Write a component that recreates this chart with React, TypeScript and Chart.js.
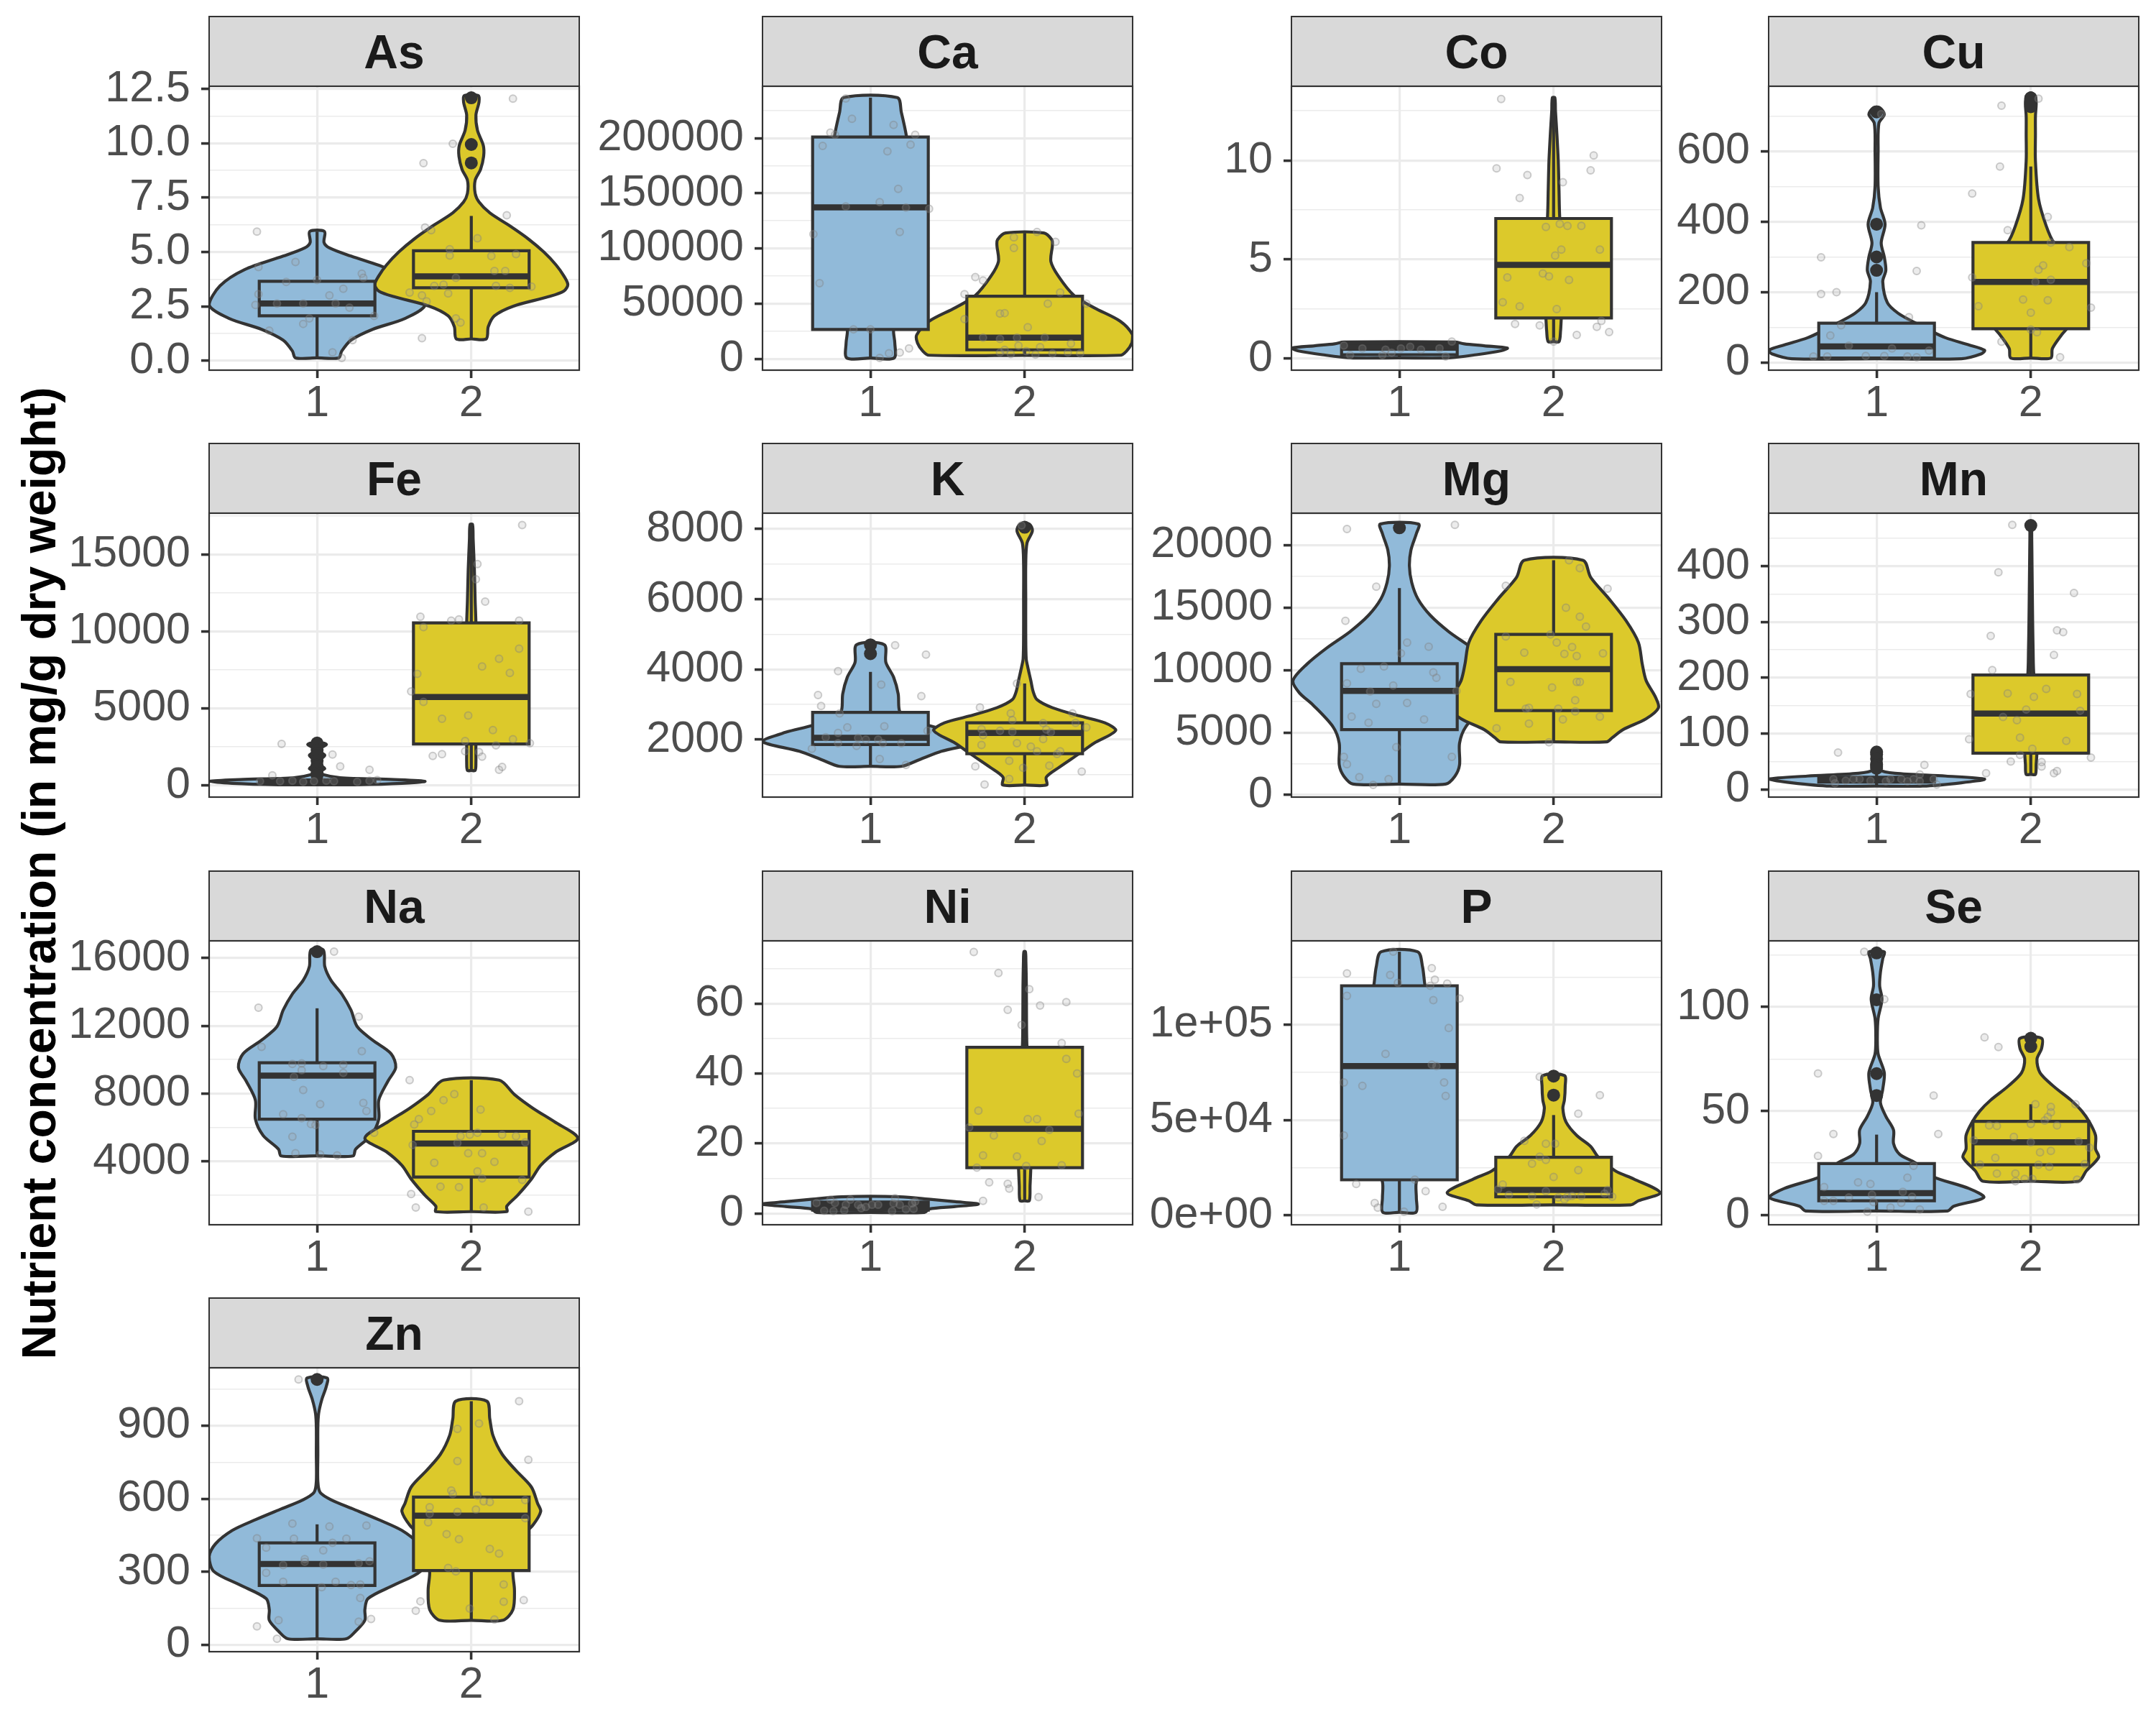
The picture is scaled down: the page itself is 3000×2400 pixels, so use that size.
import React, { useEffect, useRef } from "react";
import { Chart, registerables } from "chart.js";
Chart.register(...registerables);

// ---------------- data ----------------
const ELEMENTS = ["As", "Ca", "Co", "Cu", "Fe", "K", "Mg", "Mn", "Na", "Ni", "P", "Se", "Zn"];
const GROUP_POS = [1, 2];
const GROUP_LABELS = ["1", "2"];
const Y_TITLE = "Nutrient concentration (in mg/g dry weight)";

// box arrays: [lower whisker, q1, median, q3, upper whisker]
// violin arrays: [value, half-width (x units)]
// jitter arrays: [x, value]

const AS_RANGE = [-0.44, 12.63];
const AS_TICKS = [0, 2.5, 5, 7.5, 10, 12.5];
const AS_LABELS = ["0.0", "2.5", "5.0", "7.5", "10.0", "12.5"];
const AS_BOX_1 = [0.125, 2.06, 2.63, 3.65, 5.94];
const AS_BOX_2 = [1.0, 3.35, 3.88, 5.06, 6.66];
const AS_OUT_1: number[] = [];
const AS_OUT_2 = [12.1, 9.95, 9.1];
const AS_V1 = [[0.125, 0.14], [0.44, 0.16], [0.94, 0.22], [1.44, 0.36], [1.94, 0.57], [2.56, 0.7], [3.44, 0.63], [4.19, 0.47], [4.81, 0.22], [5.19, 0.08], [5.44, 0.045], [5.94, 0.048]];
const AS_V2 = [[1.0, 0.097], [1.56, 0.11], [2.06, 0.15], [2.5, 0.27], [2.94, 0.5], [3.2, 0.6], [3.5, 0.626], [3.9, 0.6], [4.4, 0.55], [5.0, 0.47], [5.6, 0.37], [6.2, 0.25], [6.8, 0.12], [7.3, 0.05], [7.7, 0.025], [8.3, 0.025], [8.8, 0.06], [9.4, 0.08], [9.9, 0.078], [10.6, 0.04], [11.3, 0.03], [11.9, 0.05], [12.2, 0.045]];
const AS_J1 = [[0.61, 5.94], [0.62, 4.31], [0.86, 4.54], [0.8, 3.62], [1.0, 3.71], [0.74, 2.63], [0.91, 2.63], [1.12, 2.63], [0.62, 3.06], [0.6, 2.56], [1.08, 3.0], [1.17, 3.31], [1.21, 2.44], [1.29, 4.0], [1.3, 3.81], [1.37, 2.06], [0.95, 1.94], [0.91, 1.69], [0.69, 1.38], [1.23, 0.94], [1.1, 0.38], [1.16, 0.125]];
const AS_J2 = [[2.27, 12.06], [1.88, 9.98], [1.69, 9.09], [2.23, 6.69], [1.7, 6.13], [1.74, 6.0], [2.04, 5.63], [1.86, 5.13], [1.86, 4.84], [2.13, 4.81], [2.29, 4.9], [2.15, 4.13], [2.22, 4.13], [1.9, 3.81], [1.82, 3.5], [1.76, 3.44], [2.16, 3.44], [2.25, 3.35], [2.39, 3.41], [1.85, 3.09], [1.6, 3.13], [1.68, 3.0], [1.71, 2.73], [1.9, 1.94], [1.93, 1.75], [1.68, 1.03]];

const CA_RANGE = [-10300, 247000];
const CA_TICKS = [0, 50000, 100000, 150000, 200000];
const CA_LABELS = ["0", "50000", "100000", "150000", "200000"];
const CA_BOX_1 = [700, 26600, 137200, 201000, 236700];
const CA_BOX_2 = [3200, 8100, 19200, 56700, 114000];
const CA_OUT_1: number[] = [];
const CA_OUT_2: number[] = [];
const CA_V1 = [[700, 0.153], [14300, 0.158], [26600, 0.15], [60000, 0.2], [100000, 0.25], [140000, 0.26], [180000, 0.25], [202000, 0.233], [223600, 0.2], [236700, 0.174]];
const CA_V2 = [[3200, 0.62], [6900, 0.66], [14300, 0.695], [21700, 0.7], [34000, 0.62], [46300, 0.45], [57400, 0.32], [74600, 0.22], [88200, 0.17], [103000, 0.18], [107900, 0.176], [114000, 0.124]];
const CA_J1 = [[0.84, 236000], [0.88, 217500], [0.74, 205000], [0.77, 203000], [0.69, 193000], [1.15, 212000], [1.11, 188000], [1.26, 194000], [1.29, 203000], [1.18, 154000], [1.06, 142000], [0.84, 138000], [1.23, 137000], [1.38, 136000], [1.19, 115000], [0.63, 113000], [0.67, 68500], [0.89, 26600], [1.0, 26600], [1.06, 700], [1.12, 5000], [1.19, 5700], [1.25, 9400]];
const CA_J2 = [[1.93, 110000], [2.08, 115000], [2.2, 106000], [1.93, 100500], [1.68, 74000], [1.73, 71000], [1.61, 58600], [2.23, 60000], [2.15, 50000], [2.4, 50000], [1.84, 41000], [1.87, 41400], [1.61, 36000], [2.02, 28600], [1.73, 19200], [1.84, 18000], [1.95, 19200], [2.13, 19200], [2.3, 13800], [1.96, 11800], [2.1, 10600], [1.87, 8100], [1.84, 5700], [1.91, 4400], [2.07, 3900], [2.18, 4900], [2.28, 5700], [2.36, 4900], [2.01, 6900]];

const CO_RANGE = [-0.58, 13.74];
const CO_TICKS = [0, 5, 10];
const CO_LABELS = ["0", "5", "10"];
const CO_BOX_1 = [0.04, 0.2, 0.55, 0.72, 0.84];
const CO_BOX_2 = [0.86, 2.05, 4.73, 7.07, 13.16];
const CO_OUT_1: number[] = [];
const CO_OUT_2: number[] = [];
const CO_V1 = [[0.04, 0.32], [0.2, 0.5], [0.4, 0.66], [0.53, 0.7], [0.65, 0.55], [0.75, 0.42], [0.84, 0.36]];
const CO_V2 = [[0.86, 0.035], [1.4, 0.045], [2.05, 0.05], [3, 0.06], [4.5, 0.06], [6, 0.055], [7.07, 0.04], [8.5, 0.035], [10, 0.03], [11.5, 0.02], [12.5, 0.012], [13.16, 0.008]];
const CO_J1 = [[0.64, 0.66], [0.76, 0.52], [0.91, 0.45], [0.95, 0.3], [1.01, 0.52], [1.07, 0.6], [1.14, 0.45], [1.26, 0.52], [1.34, 0.86], [1.3, 0.11], [0.89, 0.18], [0.68, 0.18]];
const CO_J2 = [[1.66, 13.1], [1.63, 9.6], [1.83, 9.26], [1.78, 8.1], [2.06, 8.9], [2.24, 9.5], [2.26, 10.25], [1.95, 6.64], [2.04, 6.8], [2.09, 6.7], [2.18, 6.7], [2.05, 5.5], [2.3, 5.5], [2.01, 5.2], [1.7, 4.1], [1.93, 4.3], [1.97, 4.15], [2.1, 3.97], [1.67, 2.85], [1.78, 2.64], [2.02, 2.5], [1.75, 1.75], [1.91, 1.68], [2.31, 1.9], [2.28, 1.6], [2.36, 1.34], [2.15, 1.2], [2.0, 0.86]];

const CU_RANGE = [-21.6, 785];
const CU_TICKS = [0, 200, 400, 600];
const CU_LABELS = ["0", "200", "400", "600"];
const CU_BOX_1 = [11, 13, 46, 112, 200];
const CU_BOX_2 = [13, 96, 229, 341, 557];
const CU_OUT_1 = [712, 393, 300, 262];
const CU_OUT_2 = [752, 740, 727];
const CU_V1 = [[11, 0.55], [25, 0.68], [35, 0.7], [50, 0.6], [70, 0.45], [90, 0.35], [113, 0.25], [140, 0.14], [170, 0.07], [230, 0.04], [262, 0.06], [300, 0.05], [340, 0.03], [393, 0.055], [440, 0.025], [500, 0.01], [600, 0.01], [680, 0.015], [705, 0.05], [724, 0.02]];
const CU_V2 = [[13, 0.13], [40, 0.14], [79, 0.2], [100, 0.24], [150, 0.3], [200, 0.33], [250, 0.32], [300, 0.26], [341, 0.15], [388, 0.1], [465, 0.05], [573, 0.03], [650, 0.03], [700, 0.03], [735, 0.035], [755, 0.03], [765, 0.012]];
const CU_J1 = [[0.64, 299], [0.64, 195], [0.74, 200], [1.26, 260], [1.29, 390], [1.21, 129], [0.77, 106], [0.7, 77], [0.82, 48], [0.93, 18.5], [1.05, 18.5], [1.1, 40], [1.2, 17], [1.26, 15], [0.59, 17], [0.68, 17], [1.34, 34], [1.03, 706]];
const CU_J2 = [[2.05, 750], [1.81, 730], [1.8, 557], [1.62, 480], [2.11, 414], [1.85, 376], [2.13, 341], [2.25, 328], [2.08, 276], [2.05, 264], [2.36, 282], [2.13, 235], [2.03, 229], [1.62, 242], [1.66, 160], [1.95, 179], [2.11, 177], [2.39, 156], [2.0, 142], [2.0, 94], [2.04, 86], [1.81, 59], [2.19, 15]];

const FE_RANGE = [-760, 17670];
const FE_TICKS = [0, 5000, 10000, 15000];
const FE_LABELS = ["0", "5000", "10000", "15000"];
const FE_BOX_1 = [40, 170, 250, 330, 560];
const FE_BOX_2 = [970, 2690, 5740, 10550, 16930];
const FE_OUT_1 = [2750, 2650, 2600, 2300, 2050, 1950, 1600, 1300, 1200, 1050, 800, 650];
const FE_OUT_2: number[] = [];
const FE_V1 = [[40, 0.25], [130, 0.55], [265, 0.7], [380, 0.5], [500, 0.15], [700, 0.04], [900, 0.02], [1100, 0.05], [1300, 0.025], [1600, 0.015], [1950, 0.05], [2150, 0.025], [2400, 0.02], [2650, 0.06], [2750, 0.04]];
const FE_V2 = [[970, 0.025], [1500, 0.03], [2690, 0.03], [5000, 0.04], [10550, 0.03], [12000, 0.025], [14000, 0.02], [16000, 0.012], [16930, 0.008]];
const FE_J1 = [[0.77, 2690], [0.71, 650], [1.1, 2000], [1.15, 1240], [1.34, 1010], [0.63, 265], [0.76, 265], [0.84, 300], [0.91, 230], [0.98, 265], [1.06, 300], [1.11, 265], [1.26, 230], [1.34, 300], [1.39, 350]];
const FE_J2 = [[2.33, 16900], [2.04, 14370], [2.03, 13380], [2.09, 11930], [1.67, 10950], [1.69, 10280], [1.87, 10690], [1.92, 10780], [2.31, 10690], [2.31, 8870], [2.18, 8220], [2.07, 7720], [2.25, 7300], [1.65, 7240], [1.61, 6100], [1.69, 5420], [1.98, 4540], [1.81, 4330], [2.14, 3590], [1.96, 2880], [2.27, 3000], [2.38, 2740], [2.16, 2600], [1.96, 2210], [2.05, 2170], [2.07, 1860], [1.75, 1910], [1.81, 2030], [2.18, 1010], [2.2, 1200]];

const K_RANGE = [364, 8450];
const K_TICKS = [2000, 4000, 6000, 8000];
const K_LABELS = ["2000", "4000", "6000", "8000"];
const K_BOX_1 = [1240, 1860, 2055, 2775, 3930];
const K_BOX_2 = [710, 1600, 2190, 2480, 3600];
const K_OUT_1 = [4700, 4450];
const K_OUT_2 = [8050];
const K_V1 = [[1240, 0.2], [1435, 0.32], [1667, 0.46], [1950, 0.7], [2210, 0.55], [2400, 0.38], [2600, 0.25], [2800, 0.19], [3300, 0.18], [3780, 0.15], [4200, 0.1], [4705, 0.09]];
const K_V2 = [[710, 0.143], [930, 0.14], [1200, 0.22], [1590, 0.35], [1900, 0.45], [2260, 0.59], [2480, 0.52], [2670, 0.36], [2910, 0.18], [3140, 0.08], [3370, 0.055], [3680, 0.04], [4070, 0.02], [4300, 0.01], [5000, 0.007], [6000, 0.007], [7000, 0.007], [7600, 0.015], [7950, 0.05], [8140, 0.03]];
const K_J1 = [[1.16, 4690], [1.36, 4420], [0.79, 3950], [0.66, 3270], [0.68, 2960], [1.07, 3570], [1.33, 3240], [0.8, 2750], [0.85, 2350], [0.71, 2070], [0.79, 2190], [0.92, 2050], [0.97, 2000], [1.05, 2000], [1.09, 2380], [1.2, 1900], [1.37, 2250], [0.79, 1900], [0.91, 1820], [0.62, 1740], [1.06, 1450], [1.23, 1280], [1.08, 1900]];
const K_J2 = [[1.98, 8100], [1.95, 3600], [1.71, 2920], [1.91, 2750], [1.92, 2560], [2.31, 2750], [2.33, 2480], [2.4, 2350], [2.12, 2470], [1.72, 2300], [1.84, 2250], [1.92, 2220], [2.14, 2290], [2.17, 2210], [1.73, 2130], [2.12, 2015], [1.95, 1900], [1.72, 1850], [2.04, 1800], [2.08, 1670], [2.23, 1670], [2.21, 1590], [1.9, 1400], [1.99, 1200], [2.16, 1260], [2.37, 1090], [1.9, 880], [1.74, 720], [1.68, 1240]];

const MG_RANGE = [-175, 22570];
const MG_TICKS = [0, 5000, 10000, 15000, 20000];
const MG_LABELS = ["0", "5000", "10000", "15000", "20000"];
const MG_BOX_1 = [870, 5230, 8330, 10510, 16570];
const MG_BOX_2 = [4250, 6760, 10070, 12860, 18800];
const MG_OUT_1 = [21400];
const MG_OUT_2: number[] = [];
const MG_V1 = [[870, 0.3], [1500, 0.36], [2400, 0.39], [4140, 0.39], [5450, 0.43], [7200, 0.56], [8200, 0.65], [9160, 0.69], [10470, 0.6], [11780, 0.47], [13080, 0.32], [14390, 0.2], [15700, 0.12], [17010, 0.08], [18320, 0.065], [19620, 0.075], [20930, 0.11], [21700, 0.124]];
const MG_V2 = [[4250, 0.345], [4580, 0.38], [5230, 0.45], [6100, 0.6], [6980, 0.68], [7850, 0.66], [9160, 0.6], [10470, 0.575], [12210, 0.55], [13950, 0.47], [15700, 0.36], [17440, 0.24], [18800, 0.19]];
const MG_J1 = [[0.66, 21300], [1.36, 21630], [0.85, 16680], [0.65, 13950], [1.05, 12210], [1.19, 11880], [0.9, 10290], [0.75, 10100], [1.01, 11340], [1.22, 9810], [1.24, 9380], [0.66, 8940], [0.96, 8770], [0.81, 8290], [1.37, 8330], [0.85, 7300], [1.05, 7370], [0.69, 6280], [0.8, 5780], [1.16, 6040], [0.98, 3820], [0.64, 3050], [0.66, 2460], [1.34, 3050], [0.74, 1420], [0.83, 810], [0.93, 1270]];
const MG_J2 = [[2.1, 18800], [2.17, 18160], [1.69, 16750], [2.35, 16530], [2.08, 15000], [2.17, 14280], [2.21, 13480], [1.69, 12690], [1.98, 12860], [2.02, 12210], [2.12, 11840], [1.81, 11400], [2.07, 11300], [2.15, 11120], [2.32, 11340], [1.72, 9050], [2.15, 9050], [2.17, 9050], [1.99, 8610], [2.14, 7590], [1.82, 6910], [1.84, 6980], [2.03, 6910], [2.14, 6690], [2.3, 6280], [2.06, 6040], [1.84, 5710], [1.63, 5340], [1.97, 4210]];

const MN_RANGE = [-13.7, 495];
const MN_TICKS = [0, 100, 200, 300, 400];
const MN_LABELS = ["0", "100", "200", "300", "400"];
const MN_BOX_1 = [6, 13, 17, 22, 32];
const MN_BOX_2 = [27, 65, 136, 205, 389];
const MN_OUT_1 = [67, 63, 55, 45, 42, 38];
const MN_OUT_2 = [473];
const MN_V1 = [[6, 0.3], [12, 0.55], [18.5, 0.7], [24, 0.45], [29, 0.12], [35, 0.02], [45, 0.03], [55, 0.025], [66, 0.02]];
const MN_V2 = [[27, 0.03], [45, 0.035], [65, 0.04], [100, 0.05], [150, 0.05], [205, 0.02], [250, 0.015], [300, 0.012], [350, 0.01], [400, 0.008], [450, 0.006], [473, 0.004]];
const MN_J1 = [[0.75, 66], [1.31, 44], [1.28, 27], [0.72, 18.5], [0.73, 11], [0.8, 15.6], [0.85, 18.5], [0.89, 18.5], [0.96, 15.6], [1.06, 14.6], [1.09, 18.5], [1.16, 18.5], [1.2, 14.6], [1.24, 18.5], [1.28, 14.6], [1.37, 18.5], [1.39, 8.8]];
const MN_J2 = [[1.88, 474], [1.79, 389], [2.28, 352], [2.17, 285], [2.21, 282], [1.74, 275], [2.15, 241], [1.75, 214], [1.61, 171], [1.85, 172], [2.02, 166], [2.1, 180], [2.3, 171], [2.32, 141], [1.97, 143], [1.82, 130], [1.91, 124], [1.6, 90], [1.93, 93], [2.23, 87], [1.93, 62], [2.01, 73], [1.87, 50], [2.07, 49], [2.07, 41], [2.39, 57], [1.71, 29], [2.15, 29], [2.17, 33]];

const NA_RANGE = [257, 17010];
const NA_TICKS = [4000, 8000, 12000, 16000];
const NA_LABELS = ["4000", "8000", "12000", "16000"];
const NA_BOX_1 = [4320, 6490, 9060, 9815, 13030];
const NA_BOX_2 = [1030, 3070, 5045, 5770, 8790];
const NA_OUT_1 = [16370];
const NA_OUT_2: number[] = [];
const NA_V1 = [[4320, 0.233], [4720, 0.25], [5530, 0.35], [6490, 0.4], [7610, 0.4], [8740, 0.46], [9540, 0.51], [10350, 0.48], [11150, 0.36], [11950, 0.26], [12920, 0.22], [13880, 0.16], [14680, 0.09], [15490, 0.05], [16480, 0.04]];
const NA_V2 = [[1030, 0.23], [1350, 0.23], [1990, 0.3], [2955, 0.39], [3760, 0.45], [4560, 0.55], [5365, 0.69], [6330, 0.54], [7130, 0.4], [7940, 0.28], [8790, 0.18]];
const NA_J1 = [[1.11, 16370], [0.62, 13070], [1.27, 12540], [0.64, 10750], [1.29, 10500], [0.84, 9750], [0.9, 9780], [1.04, 9620], [1.17, 9700], [0.9, 9380], [1.17, 9220], [0.85, 8980], [0.91, 8210], [1.02, 7370], [1.3, 7450], [1.32, 6970], [0.78, 6780], [0.9, 6540], [0.96, 6200], [0.99, 6140], [1.37, 5690], [0.84, 5450], [0.86, 4480], [1.02, 4400], [1.13, 4350]];
const NA_J2 = [[1.6, 8790], [1.89, 7970], [1.82, 7610], [2.06, 7050], [1.74, 6970], [1.66, 6490], [1.63, 6170], [1.99, 5570], [2.04, 5690], [1.93, 5480], [2.2, 5570], [2.29, 5480], [2.35, 5120], [1.91, 5080], [1.62, 4960], [1.98, 4480], [2.07, 4480], [1.76, 3920], [2.15, 3970], [2.04, 3410], [2.07, 2990], [2.33, 2910], [1.8, 2510], [1.92, 2470], [1.61, 2070], [1.64, 1270], [2.08, 1270], [2.37, 1030]];

const NI_RANGE = [-3.2, 77.9];
const NI_TICKS = [0, 20, 40, 60];
const NI_LABELS = ["0", "20", "40", "60"];
const NI_BOX_1 = [0.3, 1.0, 2.2, 3.3, 4.8];
const NI_BOX_2 = [3.65, 13.1, 24.2, 47.5, 74.7];
const NI_OUT_1: number[] = [];
const NI_OUT_2: number[] = [];
const NI_V1 = [[0.3, 0.35], [1.3, 0.38], [2.0, 0.55], [2.7, 0.7], [3.4, 0.55], [4.0, 0.4], [4.8, 0.19]];
const NI_V2 = [[3.65, 0.03], [8, 0.035], [13.1, 0.04], [25, 0.05], [47.5, 0.015], [55, 0.012], [65, 0.011], [72, 0.008], [74.8, 0.005]];
const NI_J1 = [[0.65, 3.0], [0.74, 4.0], [0.77, 3.0], [0.84, 2.5], [0.87, 4.0], [0.92, 2.5], [0.97, 1.9], [1.01, 2.5], [1.05, 2.5], [1.15, 2.9], [1.19, 2.5], [1.27, 2.9], [1.29, 3.4], [0.7, 0.8], [0.76, 0.7], [0.83, 0.9], [1.14, 0.7], [1.23, 1.2], [1.28, 1.3], [0.94, 1.5], [1.16, 4.4]];
const NI_J2 = [[1.67, 74.7], [1.83, 68.7], [2.03, 64.1], [2.1, 59.4], [2.27, 60.4], [1.89, 58.2], [1.98, 53.9], [2.24, 48.7], [2.27, 44.2], [2.34, 40.0], [1.7, 29.4], [2.35, 28.5], [2.02, 27.0], [2.08, 27.0], [1.64, 24.6], [2.16, 23.9], [1.8, 22.3], [2.11, 20.7], [1.73, 16.6], [1.95, 16.3], [1.69, 13.1], [2.24, 13.8], [2.01, 13.6], [1.77, 8.9], [1.89, 8.5], [1.9, 7.1], [2.09, 4.7], [1.73, 3.65]];

const P_RANGE = [-5000, 144000];
const P_TICKS = [0, 50000, 100000];
const P_LABELS = ["0e+00", "5e+04", "1e+05"];
const P_BOX_1 = [1570, 18570, 78290, 120430, 138300];
const P_BOX_2 = [5430, 9700, 13300, 30430, 52570];
const P_OUT_1: number[] = [];
const P_OUT_2 = [73000, 63000];
const P_V1 = [[1570, 0.108], [9000, 0.11], [17570, 0.11], [40000, 0.2], [80000, 0.25], [121100, 0.165], [130400, 0.15], [138300, 0.118]];
const P_V2 = [[5430, 0.5], [7570, 0.55], [11860, 0.69], [19000, 0.52], [23290, 0.4], [30430, 0.29], [36140, 0.24], [41860, 0.15], [49000, 0.08], [56140, 0.06], [60430, 0.07], [67570, 0.075], [73290, 0.07]];
const P_J1 = [[0.66, 126900], [0.96, 138300], [0.94, 126100], [0.99, 121900], [1.21, 129700], [1.23, 123600], [1.2, 120400], [1.31, 121600], [1.39, 113700], [1.22, 112900], [0.66, 115100], [1.32, 98300], [0.91, 84700], [1.21, 79000], [1.24, 78300], [0.64, 69700], [0.76, 67900], [1.29, 69700], [1.3, 62600], [0.64, 41900], [1.1, 18700], [0.72, 16400], [1.17, 12600], [0.84, 6400], [0.86, 4000], [1.03, 1900], [1.28, 4400]];
const P_J2 = [[1.91, 72570], [2.3, 63000], [2.16, 53290], [1.81, 39000], [1.95, 37570], [2.01, 37570], [1.91, 30700], [1.95, 29000], [1.86, 27100], [2.16, 23700], [2.0, 20100], [1.67, 16100], [1.64, 13600], [1.71, 10700], [1.86, 10100], [1.95, 12600], [2.03, 9300], [2.09, 9700], [2.12, 10100], [2.18, 10100], [2.33, 11400], [2.35, 13300], [2.38, 9700], [1.89, 5700], [2.07, 8300]];

const SE_RANGE = [-4.6, 131.8];
const SE_TICKS = [0, 50, 100];
const SE_LABELS = ["0", "50", "100"];
const SE_BOX_1 = [2.0, 6.9, 10.6, 24.8, 38.7];
const SE_BOX_2 = [16.3, 24.2, 35.0, 45.1, 53.3];
const SE_OUT_1 = [126, 103.5, 68, 57.5];
const SE_OUT_2 = [85, 81];
const SE_V1 = [[2.0, 0.46], [4.3, 0.5], [8.5, 0.695], [12.8, 0.6], [18.7, 0.36], [25.2, 0.25], [29.2, 0.15], [34.4, 0.11], [40.9, 0.11], [47.5, 0.06], [54.0, 0.025], [60.5, 0.04], [68.4, 0.05], [77.5, 0.01], [85.4, 0.005], [94.5, 0.01], [103.7, 0.035], [110.2, 0.02], [116.7, 0.025], [123.3, 0.04], [126.5, 0.05]];
const SE_V2 = [[16.3, 0.31], [21.3, 0.36], [27.8, 0.44], [31.8, 0.42], [38.3, 0.42], [44.8, 0.38], [50.1, 0.33], [55.3, 0.26], [61.8, 0.15], [68.4, 0.06], [74.9, 0.04], [80.1, 0.07], [85.0, 0.07]];
const SE_J1 = [[0.92, 126.5], [1.05, 103.7], [0.62, 68.1], [1.37, 57.5], [0.72, 39.0], [1.4, 39.0], [0.62, 28.5], [1.24, 23.7], [1.2, 18.0], [0.88, 15.8], [0.96, 15.0], [0.66, 13.5], [1.17, 11.2], [1.23, 8.9], [0.82, 8.5], [0.97, 9.8], [0.66, 6.9], [0.72, 6.9], [0.98, 6.3], [1.09, 3.7], [1.16, 5.9], [1.28, 2.7], [0.94, 1.7]];
const SE_J2 = [[1.7, 85.4], [1.79, 80.8], [2.29, 53.3], [2.03, 53.3], [2.13, 52.0], [2.13, 49.4], [2.11, 47.2], [2.09, 45.5], [2.0, 43.8], [1.73, 43.1], [1.78, 42.9], [2.17, 43.1], [1.89, 37.6], [1.63, 36.0], [2.0, 35.0], [2.31, 35.4], [2.38, 32.4], [2.06, 30.2], [2.13, 30.9], [1.77, 27.5], [1.67, 24.3], [2.05, 24.2], [2.12, 23.3], [2.35, 24.6], [1.78, 20.0], [1.9, 20.0], [1.9, 16.3], [1.96, 17.4], [2.01, 17.4], [2.3, 17.1]];

const ZN_RANGE = [-28, 1138];
const ZN_TICKS = [0, 300, 600, 900];
const ZN_LABELS = ["0", "300", "600", "900"];
const ZN_BOX_1 = [25, 244, 332, 419, 495];
const ZN_BOX_2 = [101, 305, 531, 607, 1001];
const ZN_OUT_1 = [1090];
const ZN_OUT_2: number[] = [];
const ZN_V1 = [[25, 0.19], [56, 0.25], [101, 0.31], [145, 0.31], [190, 0.33], [246, 0.5], [302, 0.67], [363, 0.7], [414, 0.66], [470, 0.55], [514, 0.4], [559, 0.23], [593, 0.1], [626, 0.02], [671, 0.005], [783, 0.005], [894, 0.005], [950, 0.01], [1006, 0.03], [1062, 0.06], [1096, 0.065]];
const ZN_V2 = [[101, 0.205], [145, 0.27], [224, 0.28], [302, 0.27], [400, 0.3], [447, 0.33], [492, 0.4], [548, 0.45], [581, 0.43], [648, 0.39], [716, 0.29], [783, 0.2], [861, 0.14], [928, 0.12], [1001, 0.1]];
const ZN_J1 = [[0.88, 1090], [0.61, 76], [0.74, 25], [0.75, 101], [1.27, 95], [1.35, 106], [1.28, 193], [0.78, 259], [0.67, 296], [0.78, 328], [0.92, 352], [0.92, 341], [1.04, 330], [1.27, 335], [1.34, 343], [0.67, 399], [0.61, 438], [0.85, 436], [1.04, 388], [1.1, 419], [1.19, 436], [0.84, 498], [1.08, 486], [1.32, 490], [1.03, 237], [1.12, 259], [1.22, 246], [1.28, 248]];
const ZN_J2 = [[2.31, 1001], [2.05, 909], [1.91, 887], [2.37, 760], [1.91, 755], [1.87, 634], [1.88, 620], [2.04, 613], [2.08, 590], [2.12, 587], [2.35, 595], [1.73, 565], [1.73, 539], [1.91, 546], [2.03, 556], [1.72, 503], [2.35, 520], [1.84, 455], [1.92, 434], [2.12, 394], [2.18, 375], [1.85, 316], [1.9, 302], [2.21, 248], [2.34, 184], [2.21, 177], [1.67, 179], [1.64, 140], [1.99, 149], [2.15, 104]];

// ---------------- assembly ----------------
type Grp = { box: number[]; out: number[]; violin: number[][]; jitter: number[][] };
type PanelSpec = { name: string; range: number[]; ticks: number[]; labels: string[]; groups: Grp[] };
const mk = (name: string, range: number[], ticks: number[], labels: string[], g1: Grp, g2: Grp): PanelSpec => ({ name, range, ticks, labels, groups: [g1, g2] });

const PANELS: PanelSpec[] = [
  mk(ELEMENTS[0], AS_RANGE, AS_TICKS, AS_LABELS, { box: AS_BOX_1, out: AS_OUT_1, violin: AS_V1, jitter: AS_J1 }, { box: AS_BOX_2, out: AS_OUT_2, violin: AS_V2, jitter: AS_J2 }),
  mk(ELEMENTS[1], CA_RANGE, CA_TICKS, CA_LABELS, { box: CA_BOX_1, out: CA_OUT_1, violin: CA_V1, jitter: CA_J1 }, { box: CA_BOX_2, out: CA_OUT_2, violin: CA_V2, jitter: CA_J2 }),
  mk(ELEMENTS[2], CO_RANGE, CO_TICKS, CO_LABELS, { box: CO_BOX_1, out: CO_OUT_1, violin: CO_V1, jitter: CO_J1 }, { box: CO_BOX_2, out: CO_OUT_2, violin: CO_V2, jitter: CO_J2 }),
  mk(ELEMENTS[3], CU_RANGE, CU_TICKS, CU_LABELS, { box: CU_BOX_1, out: CU_OUT_1, violin: CU_V1, jitter: CU_J1 }, { box: CU_BOX_2, out: CU_OUT_2, violin: CU_V2, jitter: CU_J2 }),
  mk(ELEMENTS[4], FE_RANGE, FE_TICKS, FE_LABELS, { box: FE_BOX_1, out: FE_OUT_1, violin: FE_V1, jitter: FE_J1 }, { box: FE_BOX_2, out: FE_OUT_2, violin: FE_V2, jitter: FE_J2 }),
  mk(ELEMENTS[5], K_RANGE, K_TICKS, K_LABELS, { box: K_BOX_1, out: K_OUT_1, violin: K_V1, jitter: K_J1 }, { box: K_BOX_2, out: K_OUT_2, violin: K_V2, jitter: K_J2 }),
  mk(ELEMENTS[6], MG_RANGE, MG_TICKS, MG_LABELS, { box: MG_BOX_1, out: MG_OUT_1, violin: MG_V1, jitter: MG_J1 }, { box: MG_BOX_2, out: MG_OUT_2, violin: MG_V2, jitter: MG_J2 }),
  mk(ELEMENTS[7], MN_RANGE, MN_TICKS, MN_LABELS, { box: MN_BOX_1, out: MN_OUT_1, violin: MN_V1, jitter: MN_J1 }, { box: MN_BOX_2, out: MN_OUT_2, violin: MN_V2, jitter: MN_J2 }),
  mk(ELEMENTS[8], NA_RANGE, NA_TICKS, NA_LABELS, { box: NA_BOX_1, out: NA_OUT_1, violin: NA_V1, jitter: NA_J1 }, { box: NA_BOX_2, out: NA_OUT_2, violin: NA_V2, jitter: NA_J2 }),
  mk(ELEMENTS[9], NI_RANGE, NI_TICKS, NI_LABELS, { box: NI_BOX_1, out: NI_OUT_1, violin: NI_V1, jitter: NI_J1 }, { box: NI_BOX_2, out: NI_OUT_2, violin: NI_V2, jitter: NI_J2 }),
  mk(ELEMENTS[10], P_RANGE, P_TICKS, P_LABELS, { box: P_BOX_1, out: P_OUT_1, violin: P_V1, jitter: P_J1 }, { box: P_BOX_2, out: P_OUT_2, violin: P_V2, jitter: P_J2 }),
  mk(ELEMENTS[11], SE_RANGE, SE_TICKS, SE_LABELS, { box: SE_BOX_1, out: SE_OUT_1, violin: SE_V1, jitter: SE_J1 }, { box: SE_BOX_2, out: SE_OUT_2, violin: SE_V2, jitter: SE_J2 }),
  mk(ELEMENTS[12], ZN_RANGE, ZN_TICKS, ZN_LABELS, { box: ZN_BOX_1, out: ZN_OUT_1, violin: ZN_V1, jitter: ZN_J1 }, { box: ZN_BOX_2, out: ZN_OUT_2, violin: ZN_V2, jitter: ZN_J2 }),
];

// ---------------- style / layout ----------------
const FONT = "'Liberation Sans', Arial, Helvetica, sans-serif";
const INK = "#333333";
const FILLS = ["#91BAD9", "#DCC92B"];
const GRID = "#EBEBEB";
const TICK_TXT = "#4D4D4D";
const LW = 4.2;
const MED_W = 8.5;
const BOX_HALF = 0.375;
const X_MIN = 0.3;
const X_MAX = 2.7;

const COL_LEFT = [291, 1061, 1797, 2461];
const PW = 515;
const STRIP_TOP0 = 23;
const ROW_STEP = 594.3;
const STRIP_H = 97;
const PH = 395;
const YW = 250;
const XH = 90;
const PT = 40;
const PR = 20;

function violinPts(g: number, prof: number[][]) {
  const pts: { x: number; y: number }[] = [{ x: g, y: prof[0][0] }];
  for (const [y, hw] of prof) pts.push({ x: g + hw, y });
  for (let i = prof.length - 1; i >= 0; i--) pts.push({ x: g - prof[i][1], y: prof[i][0] });
  pts.push({ x: g, y: prof[0][0] });
  return pts;
}

function buildDatasets(p: PanelSpec) {
  const ds: any[] = [];
  p.groups.forEach((gr, i) => {
    const g = GROUP_POS[i];
    const fill = FILLS[i];
    const [lo, q1, med, q3, hi] = gr.box;
    const base = { pointRadius: 0, borderColor: INK, borderWidth: LW };
    ds.push({ ...base, data: violinPts(g, gr.violin), backgroundColor: fill, fill: "shape", tension: 0.3, borderJoinStyle: "round", order: 31 - i });
    ds.push({ ...base, data: [{ x: g, y: q3 }, { x: g, y: hi }], fill: false, order: 20 });
    ds.push({ ...base, data: [{ x: g, y: q1 }, { x: g, y: lo }], fill: false, order: 20 });
    ds.push({
      ...base,
      data: [{ x: g - BOX_HALF, y: q1 }, { x: g + BOX_HALF, y: q1 }, { x: g + BOX_HALF, y: q3 }, { x: g - BOX_HALF, y: q3 }, { x: g - BOX_HALF, y: q1 }],
      backgroundColor: fill, fill: "shape", tension: 0, borderCapStyle: "square", borderJoinStyle: "miter", order: 15,
    });
    ds.push({ ...base, data: [{ x: g - BOX_HALF, y: med }, { x: g + BOX_HALF, y: med }], borderWidth: MED_W, borderCapStyle: "butt", fill: false, order: 14 });
    ds.push({ data: gr.out.map((y) => ({ x: g, y })), showLine: false, pointRadius: 9, pointBackgroundColor: INK, pointBorderWidth: 0, order: 13 });
    ds.push({
      data: gr.jitter.map(([x, y]) => ({ x, y })), showLine: false, pointRadius: 5,
      pointBackgroundColor: "rgba(160,160,160,0.2)", pointBorderColor: "rgba(125,125,125,0.38)", pointBorderWidth: 2, order: 5,
    });
  });
  return ds;
}

const framePlugin = {
  id: "panelFrame",
  afterDatasetsDraw(chart: any) {
    const { ctx, chartArea: a } = chart;
    ctx.save();
    ctx.strokeStyle = INK;
    ctx.lineWidth = 2.2;
    ctx.strokeRect(a.left, a.top, a.right - a.left, a.bottom - a.top);
    ctx.restore();
  },
};

function yTickList(p: PanelSpec) {
  const step = p.ticks[1] - p.ticks[0];
  const out: any[] = [];
  for (let k = -4; k < 100; k++) {
    const v = p.ticks[0] + (k * step) / 2;
    if (v > p.range[1]) break;
    if (v < p.range[0]) continue;
    const major = k % 2 === 0;
    const idx = k / 2;
    out.push({ value: v, isMajor: major, lab: major && idx >= 0 && idx < p.labels.length ? p.labels[idx] : "" });
  }
  return out;
}

const zeroPad = (s: any) => { s.paddingLeft = 0; s.paddingRight = 0; s.paddingTop = 0; s.paddingBottom = 0; };

function Panel({ spec, col, row }: { spec: PanelSpec; col: number; row: number }) {
  const ref = useRef<HTMLCanvasElement>(null);
  const left = COL_LEFT[col];
  const stripTop = Math.round(STRIP_TOP0 + ROW_STEP * row);
  const plotTop = stripTop + STRIP_H;
  const cw = YW + PW + PR;
  const chh = PT + PH + XH;

  useEffect(() => {
    const gridOpts = {
      color: GRID,
      lineWidth: (c: any) => (c.tick && c.tick.isMajor ? 3.2 : 1.6),
      tickColor: (c: any) => (c.tick && c.tick.isMajor ? INK : "rgba(0,0,0,0)"),
      tickWidth: 3.6,
      tickLength: 11,
      drawTicks: true,
    };
    const tickFont = { family: FONT, size: 61 };
    const chart = new Chart(ref.current as HTMLCanvasElement, {
      type: "line",
      data: { datasets: buildDatasets(spec) },
      options: {
        responsive: false,
        animation: false,
        events: [],
        layout: { padding: { top: PT, right: PR, left: 0, bottom: 0 } },
        plugins: { legend: { display: false }, tooltip: { enabled: false } },
        scales: {
          x: {
            type: "linear", min: X_MIN, max: X_MAX,
            afterBuildTicks: (ax: any) => { ax.ticks = GROUP_POS.map((v, i) => ({ value: v, isMajor: true, lab: GROUP_LABELS[i] })); },
            afterFit: (s: any) => { s.height = XH; zeroPad(s); },
            grid: gridOpts,
            border: { display: false },
            ticks: { autoSkip: false, maxRotation: 0, padding: 0, color: TICK_TXT, font: tickFont, callback: (_v: any, i: number, t: any[]) => t[i].lab },
          },
          y: {
            type: "linear", min: spec.range[0], max: spec.range[1],
            afterBuildTicks: (ax: any) => { ax.ticks = yTickList(spec); },
            afterFit: (s: any) => { s.width = YW; zeroPad(s); },
            grid: gridOpts,
            border: { display: false },
            ticks: { autoSkip: false, padding: 15, color: TICK_TXT, font: tickFont, callback: (_v: any, i: number, t: any[]) => t[i].lab },
          },
        },
      } as any,
      plugins: [framePlugin],
    } as any);
    return () => chart.destroy();
  }, [spec]);

  return (
    <>
      <div
        style={{
          position: "absolute", left: left - 1, top: stripTop - 1, width: PW + 2, height: STRIP_H + 2,
          background: "#D9D9D9", border: `2px solid ${INK}`, boxSizing: "border-box",
          display: "flex", alignItems: "center", justifyContent: "center",
          font: `bold 66px ${FONT}`, color: "#1A1A1A",
        }}
      >
        {spec.name}
      </div>
      <canvas
        ref={ref}
        width={cw}
        height={chh}
        style={{ position: "absolute", left: left - YW, top: plotTop - PT, width: cw, height: chh }}
      />
    </>
  );
}

export default function App() {
  return (
    <div style={{ position: "absolute", left: 0, top: 0, width: 3000, height: 2400, background: "#FFFFFF", overflow: "hidden" }}>
      <div
        style={{
          position: "absolute", left: 54, top: 1215, transform: "translate(-50%, -50%) rotate(-90deg)",
          whiteSpace: "nowrap", font: `bold 66px ${FONT}`, color: "#000000", lineHeight: 1,
        }}
      >
        {Y_TITLE}
      </div>
      {PANELS.map((p, i) => (
        <Panel key={p.name} spec={p} col={i % 4} row={Math.floor(i / 4)} />
      ))}
    </div>
  );
}
